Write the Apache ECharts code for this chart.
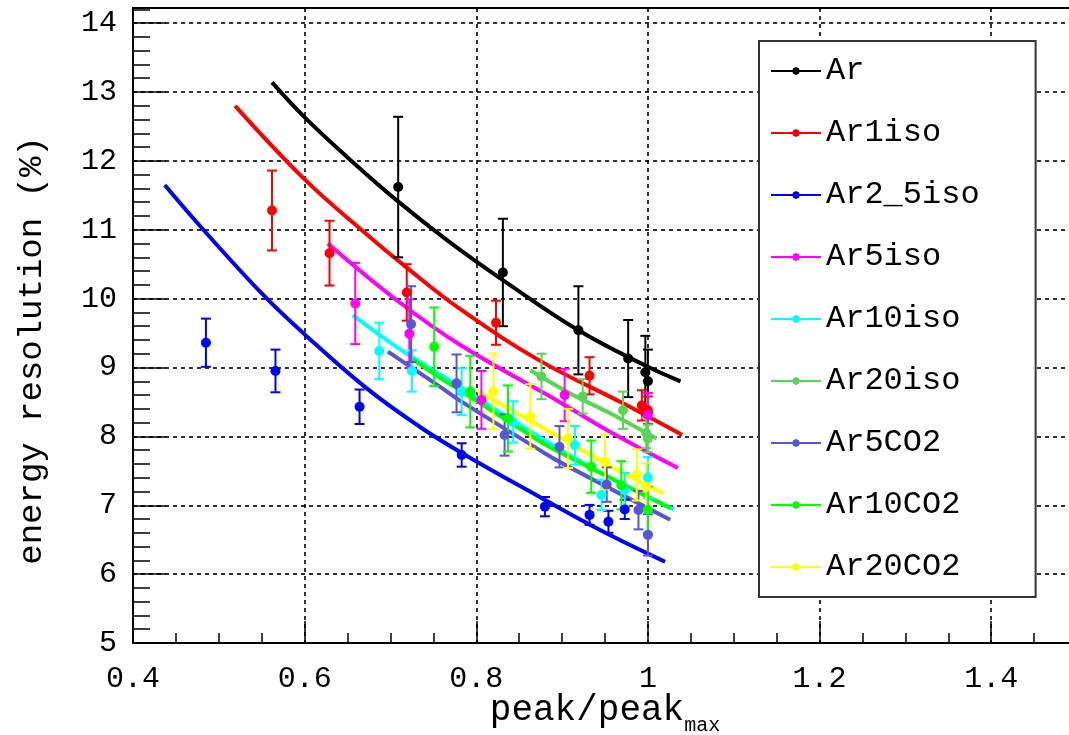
<!DOCTYPE html>
<html><head><meta charset="utf-8">
<script src="https://cdn.jsdelivr.net/npm/echarts@6/dist/echarts.min.js"></script>
<style>html,body{margin:0;padding:0;background:#fff}#c{width:1069px;height:735px}</style>
</head><body><div id="c"></div>
<script>
// ---- data ----
const gasNames  = ['Ar','Ar1iso','Ar2_5iso','Ar5iso','Ar10iso','Ar20iso','Ar5CO2','Ar10CO2','Ar20CO2'];
const gasColors = ['#000000','#ff0000','#0000ff','#ff00ff','#00ffff','#59d454','#5954d8','#00ff00','#ffff00'];
const xTickValues = [0.4, 0.6, 0.8, 1.0, 1.2, 1.4];
const yTickValues = [5, 6, 7, 8, 9, 10, 11, 12, 13, 14];

// points: [peak/peakmax, resolution %, error]
const ar_points      = [[0.709,11.62,1.02],[0.831,10.38,0.78],[0.919,9.54,0.64],[0.977,9.13,0.56],[0.997,8.93,0.53],[1.0,8.80,0.46]];
const ar1iso_points  = [[0.562,11.28,0.58],[0.629,10.66,0.47],[0.719,10.09,0.41],[0.823,9.65,0.32],[0.932,8.88,0.27],[0.993,8.45,0.22],[1.0,8.38,0.2]];
const ar25iso_points = [[0.485,9.36,0.35],[0.566,8.95,0.31],[0.664,8.43,0.25],[0.783,7.73,0.17],[0.880,6.98,0.14],[0.932,6.86,0.145],[0.954,6.76,0.16],[0.973,6.94,0.14]];
const ar5iso_points  = [[0.659,9.93,0.59],[0.722,9.49,0.5],[0.806,8.53,0.42],[0.903,8.60,0.38],[1.0,8.31,0.32]];
const ar10iso_points = [[0.687,9.24,0.41],[0.725,8.95,0.30],[0.783,8.65,0.34],[0.843,8.21,0.3],[0.915,7.87,0.28],[0.946,7.15,0.22],[0.973,7.22,0.25],[1.0,7.40,0.3]];
const ar20iso_points = [[0.876,8.87,0.33],[0.924,8.58,0.25],[0.971,8.38,0.27],[0.998,8.05,0.22],[1.0,7.97,0.2]];
const ar5co2_points  = [[0.724,9.63,0.55],[0.777,8.77,0.42],[0.833,8.02,0.3],[0.897,7.85,0.3],[0.952,7.30,0.25],[0.989,6.93,0.28],[1.0,6.57,0.3]];
const ar10co2_points = [[0.751,9.30,0.57],[0.793,8.65,0.52],[0.837,8.26,0.48],[0.934,7.56,0.38],[0.969,7.29,0.35],[1.0,6.93,0.34]];
const ar20co2_points = [[0.82,8.65,0.55],[0.863,8.29,0.47],[0.907,7.97,0.43],[0.95,7.63,0.4],[0.987,7.44,0.37],[0.998,7.27,0.34]];

// fit curves
const ar_fit      = [[0.562,13.14],[0.601,12.62],[0.651,12.04],[0.707,11.43],[0.767,10.84],[0.831,10.27],[0.919,9.54],[1.0,9.01],[1.038,8.80]];
const ar1iso_fit  = [[0.519,12.80],[0.601,11.72],[0.668,10.98],[0.719,10.45],[0.781,9.85],[0.874,9.10],[0.971,8.48],[1.04,8.02]];
const ar25iso_fit = [[0.437,11.65],[0.482,11.0],[0.552,10.05],[0.601,9.47],[0.672,8.70],[0.734,8.14],[0.783,7.76],[0.874,7.12],[0.946,6.63],[1.02,6.18]];
const ar5iso_fit  = [[0.627,10.80],[0.707,9.98],[0.781,9.33],[0.897,8.50],[0.961,8.03],[1.035,7.54]];
const ar10iso_fit = [[0.656,9.76],[0.69,9.45],[0.724,9.16],[0.781,8.72],[0.874,7.99],[0.95,7.44],[1.03,6.94]];
const ar20iso_fit = [[0.863,8.96],[0.91,8.62],[0.952,8.36],[1.01,7.97]];
const ar5co2_fit  = [[0.697,9.23],[0.758,8.72],[0.781,8.52],[0.874,7.80],[0.897,7.63],[1.026,6.79]];
const ar10co2_fit = [[0.725,9.13],[0.758,8.85],[0.781,8.67],[0.874,7.93],[0.897,7.77],[1.026,6.96]];
const ar20co2_fit = [[0.802,8.65],[0.874,8.15],[0.897,7.99],[0.96,7.54],[1.018,7.17]];

const allPoints = [ar_points, ar1iso_points, ar25iso_points, ar5iso_points, ar10iso_points, ar20iso_points, ar5co2_points, ar10co2_points, ar20co2_points];
const allFits   = [ar_fit, ar1iso_fit, ar25iso_fit, ar5iso_fit, ar10iso_fit, ar20iso_fit, ar5co2_fit, ar10co2_fit, ar20co2_fit];

// ---- chart ----
const FONT = 'Liberation Mono';
function errRender(params, api) {
  const x = api.value(0), y = api.value(1), e = api.value(2);
  const t = api.coord([x, y + e]), b = api.coord([x, y - e]);
  const cw = 5;
  const style = { stroke: api.visual('color'), lineWidth: 2 };
  return { type: 'group', children: [
    { type: 'line', shape: { x1: t[0], y1: t[1], x2: b[0], y2: b[1] }, style },
    { type: 'line', shape: { x1: t[0] - cw, y1: t[1], x2: t[0] + cw, y2: t[1] }, style },
    { type: 'line', shape: { x1: b[0] - cw, y1: b[1], x2: b[0] + cw, y2: b[1] }, style }
  ]};
}

const series = [];
gasNames.forEach((name, i) => {
  const col = gasColors[i];
  series.push({ name, type: 'line', data: allFits[i], smooth: 0.4, showSymbol: false, symbol: 'none',
    lineStyle: { color: col, width: 4 }, itemStyle: { color: col }, z: 2, silent: true });
  series.push({ name, type: 'custom', data: allPoints[i], renderItem: errRender,
    encode: { x: 0, y: 1 }, itemStyle: { color: col }, z: 3, silent: true });
  series.push({ name, type: 'scatter', data: allPoints[i].map(p => [p[0], p[1]]), symbol: 'circle', symbolSize: 10,
    itemStyle: { color: col, opacity: 1 }, z: 4, silent: true });
});

const iconPath = 'path://M0,5.1H50V6.9H0Z M21,6 L22.2,3.2 L25,2 L27.8,3.2 L29,6 L27.8,8.8 L25,10 L22.2,8.8 Z';

const option = {
  animation: false,
  backgroundColor: '#ffffff',
  grid: { left: 133, right: -8, top: 8, bottom: 92, outerBoundsMode: 'none', containLabel: false },
  legend: {
    orient: 'vertical', left: 759, top: 41,
    padding: [10, 56, 10, 12],
    itemGap: 22, itemWidth: 50, itemHeight: 12,
    borderColor: '#333', borderWidth: 2, backgroundColor: '#fff',
    selectedMode: false,
    textStyle: { fontFamily: FONT, fontSize: 32, lineHeight: 40, color: '#000' },
    data: gasNames.map((n, i) => ({ name: n, icon: iconPath, itemStyle: { color: gasColors[i] } }))
  },
  xAxis: [{
    type: 'value', min: 0.4, max: 1.5, interval: 0.2,
    name: '{a|peak/peak}{b|max}', nameLocation: 'middle', nameGap: 49, nameMoveOverlap: false,
    nameTextStyle: { rich: {
      a: { fontFamily: FONT, fontSize: 36, lineHeight: 36, color: '#000', verticalAlign: 'top' },
      b: { fontFamily: FONT, fontSize: 20, lineHeight: 20, color: '#000', verticalAlign: 'top', padding: [24, 0, 0, 0] }
    }},
    axisLine: { show: true, onZero: false, lineStyle: { color: '#000', width: 2 } },
    axisTick: { show: true, inside: true, length: 22, lineStyle: { color: '#000', width: 1.5 } },
    minorTick: { show: true, splitNumber: 4, length: 10, lineStyle: { color: '#000', width: 1.5 } },
    splitLine: { show: true, lineStyle: { color: '#000', width: 1.6, type: [4, 4] } },
    axisLabel: { fontFamily: FONT, fontSize: 30, color: '#000', margin: 21,
      formatter: v => xTickValues.some(t => Math.abs(t - v) < 1e-6) ? String(+v.toFixed(1)) : '' , showMaxLabel: false }
  }, {
    type: 'value', min: 0.4, max: 1.5, position: 'top',
    axisLine: { show: true, onZero: false, lineStyle: { color: '#000', width: 2 } },
    axisTick: { show: false }, axisLabel: { show: false }, splitLine: { show: false }
  }],
  yAxis: {
    type: 'value', min: 5, max: 14.22, interval: 1,
    name: 'energy resolution (%)', nameLocation: 'middle', nameGap: 84,
    nameTextStyle: { fontFamily: FONT, fontSize: 34, lineHeight: 34, color: '#000', padding: [0, 50, 0, 0] },
    axisLine: { show: true, onZero: false, lineStyle: { color: '#000', width: 2 } },
    axisTick: { show: true, inside: true, length: 33, lineStyle: { color: '#000', width: 1.5 } },
    minorTick: { show: true, splitNumber: 5, length: 17, lineStyle: { color: '#000', width: 1.5 } },
    splitLine: { show: true, lineStyle: { color: '#000', width: 1.6, type: [4, 4] } },
    axisLabel: { fontFamily: FONT, fontSize: 30, color: '#000', margin: 16,
      formatter: v => yTickValues.includes(v) ? String(v) : '', showMaxLabel: false }
  },
  series
};

const chart = echarts.init(document.getElementById('c'), null, { renderer: 'canvas' });
chart.setOption(option);
</script>
</body></html>
